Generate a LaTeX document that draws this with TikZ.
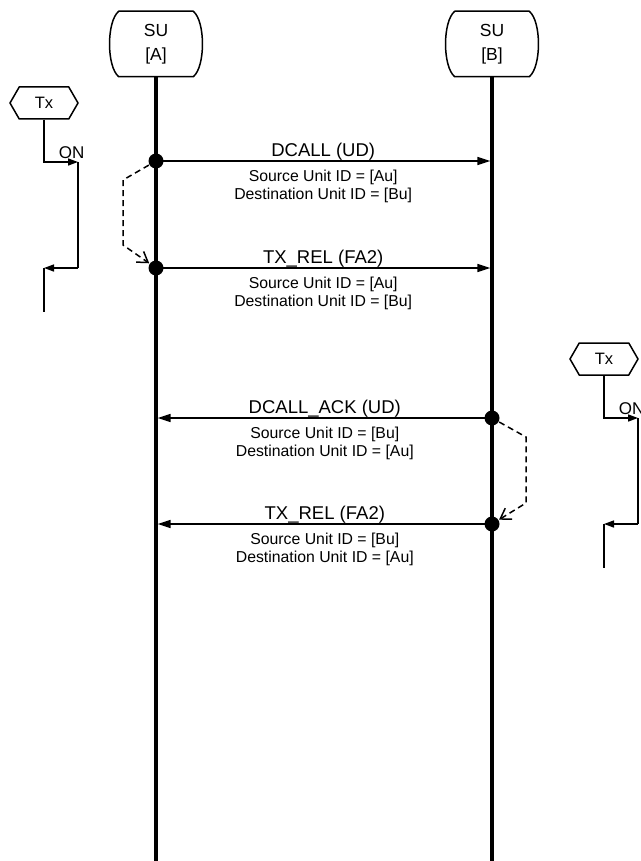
\documentclass[tikz,border=0pt]{standalone}
\usepackage{fontspec}
\setmainfont{Liberation Sans}
\usetikzlibrary{arrows.meta,shapes.symbols}

\begin{document}
\begin{tikzpicture}[x=1pt, y=-1pt, >={Triangle[length=13pt,width=8pt]}, line width=1.5pt,
  unidad/.style={minimum width=73pt, minimum height=64pt, align=center, inner sep=0pt,
    font=\fontsize{17.5}{24}\selectfont},
  estado/.style={draw, signal, signal to=west and east, signal pointer angle=120,
    minimum width=68pt, minimum height=32pt, inner sep=0pt, font=\fontsize{16.5}{18}\selectfont},
  msg/.style={inner sep=0pt, font=\fontsize{18.5}{20}\selectfont},
  ids/.style={inner sep=2pt, align=center, font=\fontsize{15.8}{18}\selectfont},
  rotulo/.style={inner sep=0pt, font=\fontsize{17}{19}\selectfont},
  punto/.style={circle, fill, inner sep=0pt, minimum size=15pt},
  vida/.style={line width=3.2pt},
  flecha/.style={-{Triangle[length=10pt,width=7pt]}},
  retardo/.style={dash pattern=on 6pt off 4pt, -{Straight Barb[length=10pt,width=13pt]}}]

  \useasboundingbox (0,0) rectangle (640,861);

  % unidades y lineas de vida
  \node[unidad] (suA) at (156,44) {SU\\{[A]}};
  \node[unidad] (suB) at (492,44) {SU\\{[B]}};
  \foreach \u in {suA,suB}
    \draw[line join=round] (\u.north west) -- (\u.north east)
      .. controls +(12.3,10) and +(12.3,-10) .. (\u.south east) -- (\u.south west)
      .. controls +(-12.3,-10) and +(-12.3,10) .. cycle;
  \coordinate (finA) at (156,861);
  \coordinate (finB) at (492,861);
  \draw[vida] (suA.south) -- (finA);
  \draw[vida] (suB.south) -- (finB);

  % mensajes de A hacia B
  \node[punto] (a1) at (156,161) {};
  \node[punto] (a2) at (156,268) {};
  \coordinate (b1) at (490.4,161);
  \coordinate (b2) at (490.4,268);
  \draw[->] (a1.center) -- (b1)
    node[msg, midway, above] (m1) {DCALL (UD)}
    node[ids, midway, below=6pt] (i1) {Source Unit ID = [Au]\\Destination Unit ID = [Bu]};
  \draw[->] (a2.center) -- (b2)
    node[msg, midway, above] (m2) {TX\_REL (FA2)}
    node[ids, midway, below=6pt] (i2) {Source Unit ID = [Au]\\Destination Unit ID = [Bu]};
  \draw[retardo] (a1) -- (123,180) -- (123,245) -- (a2);

  % mensajes de B hacia A
  \node[punto] (b3) at (492,418) {};
  \node[punto] (b4) at (492,524) {};
  \coordinate (a3) at (157.6,418);
  \coordinate (a4) at (157.6,524);
  \draw[->] (b3.center) -- (a3)
    node[msg, midway, above] (m3) {DCALL\_ACK (UD)}
    node[ids, midway, below=6pt] (i3) {Source Unit ID = [Bu]\\Destination Unit ID = [Au]};
  \draw[->] (b4.center) -- (a4)
    node[msg, midway, above] (m4) {TX\_REL (FA2)}
    node[ids, midway, below=6pt] (i4) {Source Unit ID = [Bu]\\Destination Unit ID = [Au]};
  \draw[retardo] (b3) -- (526,437) -- (526,503) -- (b4);

  % temporizador Tx de A
  \node[estado] (txA) at (44,103) {Tx};
  \coordinate (onA) at (44,162);
  \coordinate (barA1) at (78,162);
  \coordinate (barA2) at (78,268);
  \coordinate (offA) at (44,268);
  \coordinate (colaA) at (44,312);
  \draw[flecha] (txA.south) -- (onA) -- (barA1);
  \node[rotulo, above=3pt] (onlA) at (71.7,162) {ON};
  \draw (barA1) -- (barA2);
  \draw[flecha] (barA2) -- (offA);
  \draw (offA) -- (colaA);

  % temporizador Tx de B
  \node[estado] (txB) at (604,359) {Tx};
  \coordinate (onB) at (604,418);
  \coordinate (barB1) at (638,418);
  \coordinate (barB2) at (638,524);
  \coordinate (offB) at (604,524);
  \coordinate (colaB) at (604,568);
  \draw[flecha] (txB.south) -- (onB) -- (barB1);
  \node[rotulo, above=3pt] (onlB) at (631.7,418) {ON};
  \draw (barB1) -- (barB2);
  \draw[flecha] (barB2) -- (offB);
  \draw (offB) -- (colaB);
\end{tikzpicture}
\end{document}
